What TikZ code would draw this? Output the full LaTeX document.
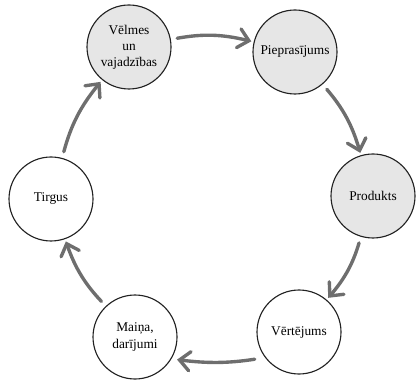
\documentclass[tikz,border=0pt]{standalone}
\usepackage{fontspec}
\setmainfont{Liberation Serif}
\usepackage{xcolor}
\usetikzlibrary{arrows.meta,positioning}
\definecolor{ring}{HTML}{6E6E6E}
\definecolor{stage}{HTML}{E6E6E6}
\definecolor{ink}{HTML}{222222}
\tikzset{
  phase/.style={circle,draw=ink,thick,minimum size=21mm,inner sep=1pt,align=center,
    fill=white,font=\fontsize{9.5}{11.5}\selectfont},
  shaded/.style={phase,fill=stage},
  arr/.style={-{Straight Barb[length=2.6mm,width=4.8mm,line cap=round]},line width=2.4pt,draw=ring,
    line cap=round,shorten <=1.6mm,shorten >=0.6mm}
}

\begin{document}
\begin{tikzpicture}
 \useasboundingbox (0,0) rectangle (10.4,9.5);
 \node[shaded] (velmes) at (3.225,8.325) {Vēlmes\\un\\vajadzības};
 \node[shaded] (piepr) at (7.375,8.2) {Pieprasījums};
 \node[shaded] (produkts) at (9.325,4.6) {Produkts};
 \node[phase] (vert) at (7.475,1.2) {Vērtējums};
 \node[phase] (maina) at (3.375,1.075) {Maiņa,\\darījumi};
 \node[phase] (tirgus) at (1.275,4.525) {Tirgus};
 \draw[arr] (velmes) to[bend left=12] (piepr);
 \draw[arr] (piepr) to[bend left=12] (produkts);
 \draw[arr] (produkts) to[bend left=12] (vert);
 \draw[arr,shorten <=2.6mm,shorten >=1.4mm] (vert.217) to[bend left=8] (maina.-31);
 \draw[arr] (maina) to[bend left=12] (tirgus);
 \draw[arr] (tirgus) to[bend left=12] (velmes);
\end{tikzpicture}
\end{document}
